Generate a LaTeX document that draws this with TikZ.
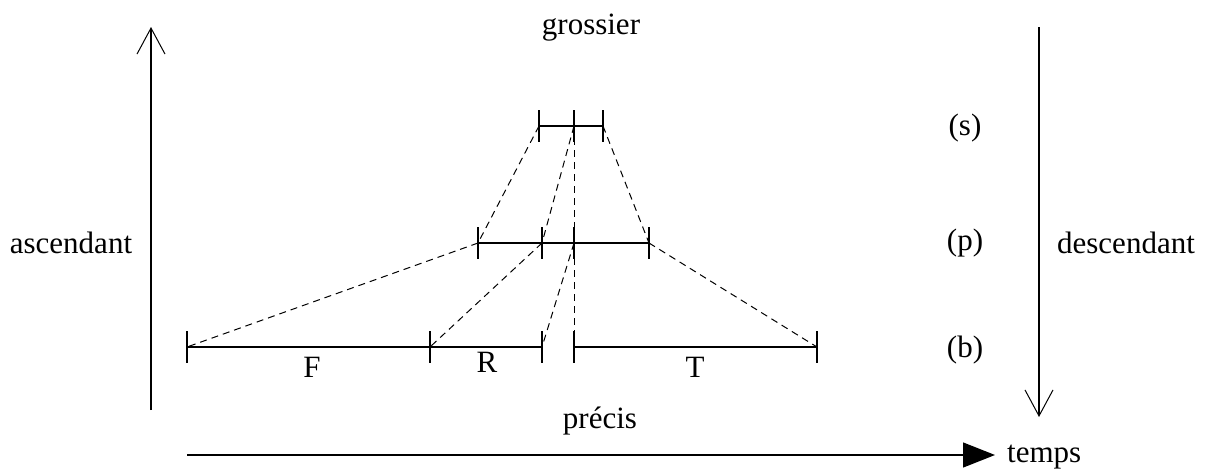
\documentclass[tikz,border=0pt]{standalone}
\usepackage{fontspec}
\setmainfont{Liberation Serif}
\usetikzlibrary{arrows.meta}
\begin{document}
\begin{tikzpicture}[x=1pt,y=-1pt,
  seg/.style={line width=1.3pt},
  guide/.style={line width=1pt,dash pattern=on 7pt off 5pt},
  axis/.style={line width=1.3pt},
  lbl/.style={font=\fontsize{31}{36}\selectfont,inner sep=0pt}]
\useasboundingbox (0,0) rectangle (1205,472);
% points
\coordinate (s1) at (539,126);
\coordinate (s2) at (574,126);
\coordinate (s3) at (603,126);
\coordinate (p1) at (478,243);
\coordinate (p2) at (542,243);
\coordinate (p3) at (574,243);
\coordinate (p4) at (649,243);
\coordinate (b1) at (187,347);
\coordinate (b2) at (430,347);
\coordinate (b3) at (542,347);
\coordinate (b4) at (574,347);
\coordinate (b5) at (817,347);
% segments
\draw[seg] (s1) -- (s3);
\draw[seg] (p1) -- (p4);
\draw[seg] (b1) -- (b3);
\draw[seg] (b4) -- (b5);
\foreach \c in {s1,s2,s3,p1,p2,p3,p4,b1,b2,b3,b4,b5}
  \draw[seg] (\c) ++(0,-16) -- ++(0,32);
% dashed guides
\draw[guide] (s1) -- (p1);
\draw[guide] (s2) -- (p2);
\draw[guide] (s2) -- (b4);
\draw[guide] (s3) -- (p4);
\draw[guide] (p1) -- (b1);
\draw[guide] (p2) -- (b2);
\draw[guide] (p3) -- (b3);
\draw[guide] (p4) -- (b5);
% axes
\coordinate (ua0) at (151,410);
\coordinate (ua1) at (151,27);
\coordinate (da0) at (1039,27);
\coordinate (da1) at (1039,417);
\coordinate (ta0) at (187,455);
\coordinate (ta1) at (995,455);
\draw[axis,-{Straight Barb[length=26pt,width=28pt,line width=1pt]}] (ua0) -- (ua1);
\draw[axis,-{Straight Barb[length=26pt,width=28pt,line width=1pt]}] (da0) -- (da1);
\draw[axis,-{Triangle[length=32pt,width=25pt]}] (ta0) -- (ta1);
% labels
\node[lbl] (grossier) at (591,28) {grossier};
\node[lbl] (precis) at (600,421) {précis};
\node[lbl] (asc) at (71,243) {ascendant};
\node[lbl] (desc) at (1126,243) {descendant};
\node[lbl] (ls) at (965,128) {(s)};
\node[lbl] (lp) at (965,243) {(p)};
\node[lbl] (lb) at (965,350) {(b)};
\node[lbl] (F) at (312,367) {F};
\node[lbl] (R) at (487,362) {R};
\node[lbl] (T) at (695,367) {T};
\node[lbl,anchor=west] (temps) at (1007,457) {temps};
\end{tikzpicture}
\end{document}
